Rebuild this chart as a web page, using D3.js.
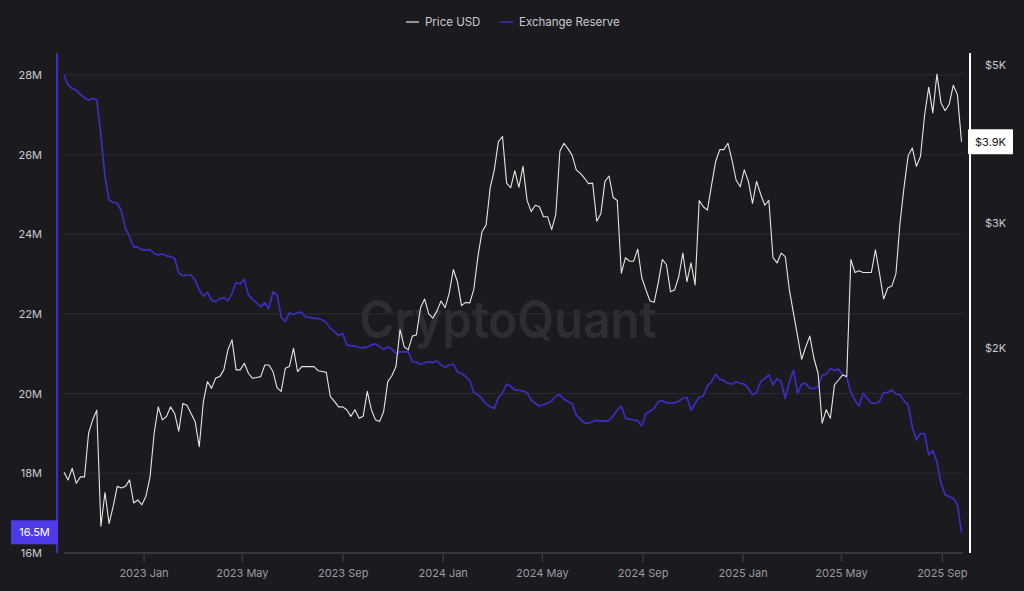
<!DOCTYPE html>
<html><head><meta charset="utf-8">
<script src="https://cdn.jsdelivr.net/npm/d3@7"></script>
<style>
html,body{margin:0;padding:0;background:#1b1b1f;}
svg{display:block;font-family:Inter,"Noto Sans",sans-serif;}
</style></head><body>
<svg id="c" width="1024" height="591"></svg>
<script>
// ---- data (ETH price in USD, exchange reserve in millions ETH), sampled every 5 days ----
const startDate = "2022-09-26";
const stepDays = 5;
const priceUSD = [
1340,1307,1357,1293,1320,1320,1520,1587,1637,1125,
1255,1135,1200,1280,1273,1280,1307,1213,1225,1206,
1240,1320,1520,1655,1587,1604,1655,1620,1530,1673,
1664,1620,1578,1455,1682,1796,1757,1816,1825,1865,
1990,2055,1865,1865,1905,1845,1815,1820,1825,1895,
1895,1855,1760,1740,1875,1885,2000,1855,1885,1885,
1885,1885,1860,1855,1850,1710,1685,1655,1655,1640,
1605,1640,1595,1605,1740,1640,1587,1578,1630,1796,
1830,1885,2125,2010,1990,2080,2090,2280,2345,2235,
2205,2255,2330,2280,2390,2580,2480,2295,2320,2315,
2420,2690,2915,2980,3360,3560,3900,3965,3410,3360,
3550,3365,3600,3225,3110,3175,3160,3060,3060,2935,
3080,3780,3880,3810,3730,3560,3520,3465,3405,3410,
3015,3090,3430,3490,3255,3225,2550,2680,2650,2650,
2755,2510,2415,2330,2320,2470,2665,2620,2400,2415,
2520,2720,2480,2635,2455,3225,3160,3125,3385,3655,
3800,3800,3880,3675,3445,3370,3560,3430,3195,3430,
3290,3175,3225,2680,2635,2720,2690,2415,2240,2080,
1930,2010,2080,1935,1845,1570,1640,1595,1777,1805,
1835,1825,2665,2555,2570,2555,2555,2555,2750,2545,
2345,2430,2445,2545,3000,3375,3730,3820,3600,3720,
4250,4650,4280,4850,4420,4310,4400,4680,4540,3900
];
const exchangeReserve = [
28.00,27.75,27.66,27.62,27.51,27.43,27.37,27.41,27.37,26.49,
25.45,24.86,24.80,24.78,24.58,24.15,23.94,23.68,23.68,23.61,
23.61,23.61,23.52,23.48,23.51,23.46,23.44,23.40,23.03,22.96,
22.98,22.98,22.85,22.60,22.45,22.54,22.35,22.31,22.38,22.41,
22.33,22.52,22.79,22.75,22.87,22.48,22.37,22.28,22.18,22.28,
22.14,22.56,22.48,21.92,21.81,22.03,21.99,22.04,22.04,21.92,
21.92,21.89,21.89,21.85,21.79,21.64,21.56,21.46,21.51,21.22,
21.20,21.20,21.16,21.15,21.17,21.22,21.25,21.18,21.11,21.17,
21.12,21.01,21.05,21.05,21.05,20.80,20.79,20.73,20.78,20.80,
20.78,20.82,20.72,20.66,20.72,20.74,20.55,20.51,20.43,20.33,
20.03,19.97,19.88,19.74,19.67,19.63,19.90,20.01,20.24,20.19,
20.09,20.09,20.06,20.03,19.84,19.76,19.69,19.72,19.76,19.82,
19.94,19.97,19.86,19.80,19.75,19.46,19.36,19.26,19.26,19.30,
19.33,19.31,19.31,19.33,19.44,19.59,19.68,19.38,19.36,19.34,
19.32,19.19,19.51,19.56,19.63,19.80,19.82,19.77,19.77,19.77,
19.81,19.88,19.91,19.59,19.76,19.91,19.94,20.19,20.30,20.49,
20.36,20.33,20.26,20.24,20.30,20.26,20.24,20.13,19.97,20.03,
20.30,20.38,20.47,20.22,20.38,20.30,19.88,20.30,20.59,20.01,
20.24,20.26,20.13,20.13,20.18,20.46,20.49,20.63,20.59,20.61,
20.49,20.41,20.03,19.84,19.69,20.01,19.88,19.76,19.76,19.80,
20.03,20.03,20.09,19.99,19.97,19.82,19.72,19.15,18.84,19.00,
18.99,18.46,18.57,18.29,17.75,17.46,17.41,17.37,17.21,16.52
];
const reserveTicks = [16,18,20,22,24,26,28];
const priceTicks = [2000,3000,5000];
const monthTicks = ["2023-01-01","2023-05-01","2023-09-01","2024-01-01","2024-05-01","2024-09-01","2025-01-01","2025-05-01","2025-09-01"];
const legendItems = ["Price USD","Exchange Reserve"];

// ---- rendering ----
const parse = d3.utcParse("%Y-%m-%d");
const t0 = parse(startDate);
const dates = priceUSD.map((_, i) => d3.utcDay.offset(t0, i * stepDays));
const series = dates.map((d, i) => ({date: d, price: priceUSD[i], reserve: exchangeReserve[i]}));

const C = {bg:"#1b1b1f", grid:"#2a2a30", base:"#38383e", text:"#c9c9cf", axisText:"#9a9aa0",
           price:"#e6e6e6", reserve:"#3b2fc9", reserveBox:"#4d3bea"};

const svg = d3.select("#c");
svg.append("rect").attr("width",1024).attr("height",591).attr("fill",C.bg);

const x = d3.scaleUtc().domain([t0, parse("2025-09-25")]).range([64, 961.5]);
const yL = d3.scaleLinear().domain([16, 28]).range([553, 75]);
const yR = d3.scaleLog().domain([1032, 4837]).range([553, 75]);

// watermark
svg.append("text").attr("x", 508).attr("y", 338).attr("text-anchor","middle")
  .attr("font-size", 52).attr("font-weight", 600).attr("fill", "#2d2d33")
  .attr("textLength", 297).attr("lengthAdjust","spacingAndGlyphs")
  .text("CryptoQuant");

// gridlines
svg.append("g").selectAll("line").data(reserveTicks).join("line")
  .attr("x1", 64).attr("x2", 963)
  .attr("y1", d => yL(d)).attr("y2", d => yL(d))
  .attr("stroke", d => d === 16 ? C.base : C.grid).attr("stroke-width", d => d === 16 ? 2 : 1);

// bottom axis
const gx = svg.append("g").attr("transform","translate(0,553)")
  .call(d3.axisBottom(x).tickValues(monthTicks.map(parse)).tickFormat(d3.utcFormat("%Y %b")).tickSize(9).tickPadding(7));
gx.select(".domain").remove();
gx.selectAll(".tick line").attr("stroke", C.base).attr("stroke-width", 1.5);
gx.selectAll(".tick text").attr("fill", C.axisText).attr("font-size", 11).attr("font-family","Inter,sans-serif");

// left axis
const gl = svg.append("g").attr("transform","translate(57,0)")
  .call(d3.axisLeft(yL).tickValues(reserveTicks).tickFormat(d => d + "M").tickSize(0).tickPadding(15));
gl.select(".domain").remove();
gl.selectAll(".tick text").attr("fill", C.text).attr("font-size", 11).attr("font-family","Inter,sans-serif");
svg.append("line").attr("x1",57).attr("x2",57).attr("y1",53).attr("y2",553)
  .attr("stroke", C.reserve).attr("stroke-width", 2);

// right axis
const gr = svg.append("g").attr("transform","translate(970,0)")
  .call(d3.axisRight(yR).tickValues(priceTicks).tickFormat(d => "$" + (d/1000) + "K").tickSize(0).tickPadding(15));
gr.select(".domain").remove();
gr.selectAll(".tick text").attr("fill", C.text).attr("font-size", 11).attr("font-family","Inter,sans-serif");
svg.append("line").attr("x1",970).attr("x2",970).attr("y1",53).attr("y2",553)
  .attr("stroke", "#ffffff").attr("stroke-width", 2);

// lines
svg.append("path").datum(series)
  .attr("fill","none").attr("stroke", C.reserve).attr("stroke-width", 1.6).attr("stroke-linejoin","round")
  .attr("d", d3.line().x(d => x(d.date)).y(d => yL(d.reserve)));
svg.append("path").datum(series)
  .attr("fill","none").attr("stroke", C.price).attr("stroke-width", 1.1).attr("stroke-linejoin","round")
  .attr("d", d3.line().x(d => x(d.date)).y(d => yR(d.price)));

// last value labels
const last = series[series.length - 1];
const ry = yL(last.reserve);
svg.append("rect").attr("x", 11).attr("y", ry - 12).attr("width", 47).attr("height", 24).attr("fill", C.reserveBox);
svg.append("text").attr("x", 34.5).attr("y", ry + 4).attr("text-anchor","middle")
  .attr("fill","#ffffff").attr("font-size", 11).text(last.reserve.toFixed(1) + "M");
const py = yR(last.price);
svg.append("rect").attr("x", 968).attr("y", py - 12.5).attr("width", 45).attr("height", 25).attr("fill", "#ffffff").attr("rx", 1);
svg.append("text").attr("x", 990.5).attr("y", py + 4).attr("text-anchor","middle")
  .attr("fill","#111111").attr("font-size", 11).text("$" + (last.price/1000).toFixed(1) + "K");

// legend
const lg = svg.append("g");
const legendColors = ["#bdbdbd", C.reserve];
const legendX = [406, 500];
legendItems.forEach((name, i) => {
  lg.append("line").attr("x1", legendX[i]).attr("x2", legendX[i] + 13).attr("y1", 22).attr("y2", 22)
    .attr("stroke", legendColors[i]).attr("stroke-width", 1.5);
  lg.append("text").attr("x", legendX[i] + 19).attr("y", 26).attr("fill", C.text)
    .attr("font-size", 11.5).text(name);
});
</script>
</body></html>
